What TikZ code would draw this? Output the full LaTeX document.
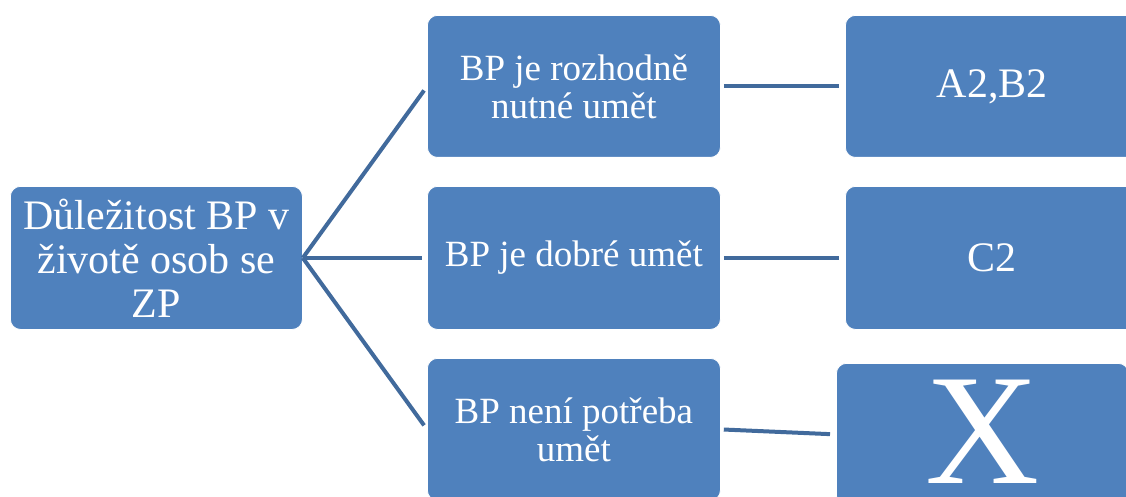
\documentclass[tikz,border=0pt]{standalone}
\usepackage{fontspec}
\setmainfont{Liberation Serif}
\definecolor{caixa}{RGB}{79,129,189}
\definecolor{linia}{RGB}{65,106,156}
\tikzset{
  caixa/.style={rectangle, rounded corners=10pt, fill=caixa, draw=white, line width=0.8pt,
    text=white, align=center, inner sep=0pt, anchor=north west},
  linia/.style={draw=linia, line width=4pt}
}
\begin{document}
\begin{tikzpicture}[x=1pt, y=-1pt]
			\clip (0,0) rectangle (1126,497);
			\fill[white] (0,0) rectangle (1126,497);
			% caixa esquerra
			\node[caixa, minimum width=292pt, minimum height=143pt, font=\fontsize{42}{44}\selectfont] (arrel) at (10,186)
				{Důležitost BP v\\ životě osob se\\ ZP};
			% caixes del mig
			\node[caixa, minimum width=293pt, minimum height=142pt, font=\fontsize{37}{38}\selectfont] (nutne) at (427,15)
				{BP je rozhodně\\ nutné umět};
			\node[caixa, minimum width=293pt, minimum height=143pt, font=\fontsize{37}{38}\selectfont] (dobre) at (427,186)
				{BP je dobré umět};
			\node[caixa, minimum width=293pt, minimum height=142pt, font=\fontsize{37}{38}\selectfont] (neni) at (427,358)
				{BP není potřeba\\ umět};
			% caixes de la dreta
			\node[caixa, minimum width=294pt, minimum height=142pt, font=\fontsize{42}{44}\selectfont] (ab) at (845,15)
				{A2,B2};
			\node[caixa, minimum width=294pt, minimum height=143pt, font=\fontsize{42}{44}\selectfont] (c) at (845,186)
				{C2};
			\node[caixa, minimum width=292pt, minimum height=142pt, font=\fontsize{158}{160}\selectfont] (x) at (836,363)
				{\raisebox{5pt}{X}};
			% linies
			\draw[linia, shorten >=5pt] (arrel.east) -- (nutne.west);
			\draw[linia, shorten >=5pt] (arrel.east) -- (dobre.west);
			\draw[linia, shorten >=5pt] (arrel.east) -- (neni.west);
			\draw[linia, shorten <=3pt, shorten >=6pt] (nutne.east) -- (ab.west);
			\draw[linia, shorten <=3pt, shorten >=6pt] (dobre.east) -- (c.west);
			\draw[linia, shorten <=3pt, shorten >=6pt] (neni.east) -- (x.west);
		\end{tikzpicture}
\end{document}
